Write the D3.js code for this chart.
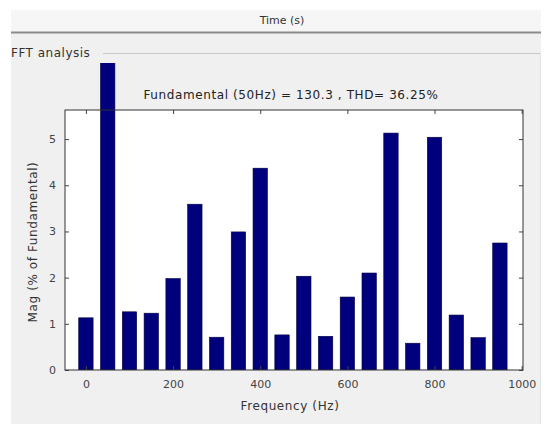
<!DOCTYPE html>
<html>
<head>
<meta charset="utf-8">
<script src="https://cdn.jsdelivr.net/npm/d3@7"></script>
<style>
  body { margin: 0; background: #fff; }
  svg text { font-family: "DejaVu Sans", Arial, sans-serif; }
</style>
</head>
<body>
<div id="chart"></div>
<script>
// harmonic order frequencies (Hz) and magnitudes (% of fundamental)
var freqs = [0, 50, 100, 150, 200, 250, 300, 350, 400, 450, 500, 550, 600, 650, 700, 750, 800, 850, 900, 950];
var mags = [1.13, 100, 1.26, 1.23, 1.98, 3.59, 0.71, 2.99, 4.37, 0.76, 2.03, 0.73, 1.58, 2.10, 5.13, 0.58, 5.04, 1.19, 0.70, 2.75];
var xTicks = [0, 200, 400, 600, 800, 1000];
var yTicks = [0, 1, 2, 3, 4, 5];
var titleText = "Fundamental (50Hz) = 130.3 , THD= 36.25%";

var W = 546, H = 424;
var plot = {left: 65, right: 523, top: 110, bottom: 370};

var svg = d3.select("#chart").append("svg")
    .attr("width", W)
    .attr("height", H);

// window panel background
svg.append("rect")
    .attr("x", 11).attr("y", 10)
    .attr("width", 530).attr("height", H - 10)
    .style("fill", "#f0f0f0");

// top strip (Time axis panel)
svg.append("rect")
    .attr("x", 11).attr("y", 10)
    .attr("width", 530).attr("height", 22)
    .style("fill", "#f6f6f6");
svg.append("line")
    .attr("x1", 11).attr("x2", 541)
    .attr("y1", 32.5).attr("y2", 32.5)
    .style("stroke", "#8a8a8a").style("stroke-width", 2);
svg.append("text")
    .attr("x", 282).attr("y", 24)
    .attr("text-anchor", "middle")
    .style("font-size", "11px").style("fill", "#333")
    .text("Time (s)");

// FFT analysis group box
svg.append("text")
    .attr("x", 11).attr("y", 57)
    .style("font-size", "12px").style("letter-spacing", "0.5px").style("fill", "#333")
    .text("FFT analysis");
svg.append("line")
    .attr("x1", 103).attr("x2", 540)
    .attr("y1", 53.5).attr("y2", 53.5)
    .style("stroke", "#c8c8c8").style("stroke-width", 1);
svg.append("line")
    .attr("x1", 540.5).attr("x2", 540.5)
    .attr("y1", 53).attr("y2", H)
    .style("stroke", "#e2e2e2").style("stroke-width", 1);

var x = d3.scaleLinear().domain([-48, 1003]).range([plot.left, plot.right]);
var y = d3.scaleLinear().domain([0, 5.63]).range([plot.bottom, plot.top]);
var barW = x(33) - x(0);

// axes area
svg.append("rect")
    .attr("x", plot.left).attr("y", plot.top)
    .attr("width", plot.right - plot.left).attr("height", plot.bottom - plot.top)
    .style("fill", "#fff");

svg.append("clipPath").attr("id", "clip")
  .append("rect")
    .attr("x", 11).attr("y", 63)
    .attr("width", 530).attr("height", plot.bottom - 63);

svg.append("g").attr("clip-path", "url(#clip)")
  .selectAll(".bar")
  .data(freqs)
  .enter().append("rect")
    .attr("class", "bar")
    .attr("x", function(d) { return x(d) - barW / 2; })
    .attr("y", function(d, i) { return y(mags[i]); })
    .attr("width", barW)
    .attr("height", function(d, i) { return plot.bottom - y(mags[i]); })
    .style("fill", "#00007c")
    .style("stroke", "#000040")
    .style("stroke-width", 0.6);

// axes with inward ticks
var tickLen = 4;
var fmt = d3.format("d");
svg.append("g")
    .attr("transform", "translate(0," + plot.bottom + ")")
    .call(d3.axisBottom(x).tickValues(xTicks).tickSizeInner(-tickLen).tickSizeOuter(0).tickPadding(10).tickFormat(fmt))
    .call(styleAxis);
svg.append("g")
    .attr("transform", "translate(0," + plot.top + ")")
    .call(d3.axisTop(x).tickValues(xTicks).tickSizeInner(-tickLen).tickSizeOuter(0).tickFormat(""))
    .call(styleAxis);
svg.append("g")
    .attr("transform", "translate(" + plot.left + ",0)")
    .call(d3.axisLeft(y).tickValues(yTicks).tickSizeInner(-tickLen).tickSizeOuter(0).tickPadding(9).tickFormat(fmt))
    .call(styleAxis);
svg.append("g")
    .attr("transform", "translate(" + plot.right + ",0)")
    .call(d3.axisRight(y).tickValues(yTicks).tickSizeInner(-tickLen).tickSizeOuter(0).tickFormat(""))
    .call(styleAxis);

function styleAxis(g) {
    g.select(".domain").remove();
    g.selectAll(".tick line").style("stroke", "#444");
    g.selectAll(".tick text").style("font-size", "11px").style("fill", "#444")
        .style("font-family", "'DejaVu Sans', sans-serif");
}

// frame
svg.append("rect")
    .attr("x", plot.left).attr("y", plot.top)
    .attr("width", plot.right - plot.left).attr("height", plot.bottom - plot.top)
    .style("fill", "none").style("stroke", "#333").style("stroke-width", 1);

// title and labels
svg.append("text")
    .attr("x", 291).attr("y", 99)
    .attr("text-anchor", "middle")
    .style("font-size", "12px").style("letter-spacing", "0.6px").style("fill", "#222")
    .text(titleText);
svg.append("text")
    .attr("x", 290).attr("y", 410)
    .attr("text-anchor", "middle")
    .style("font-size", "12px").style("letter-spacing", "0.6px").style("fill", "#333")
    .text("Frequency (Hz)");
svg.append("text")
    .attr("transform", "translate(37," + ((plot.top + plot.bottom) / 2 + 2) + ") rotate(-90)")
    .attr("text-anchor", "middle")
    .style("font-size", "12px").style("letter-spacing", "0.6px").style("fill", "#333")
    .text("Mag (% of Fundamental)");
</script>
</body>
</html>
